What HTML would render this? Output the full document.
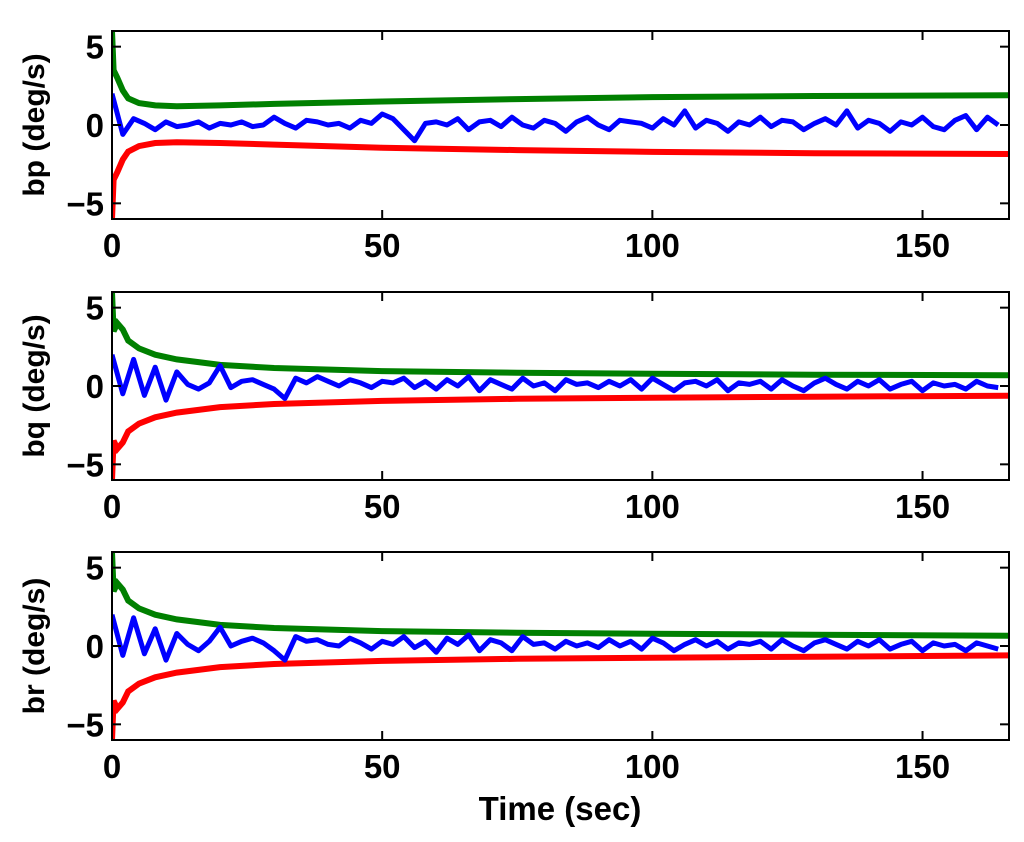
<!DOCTYPE html>
<html><head><meta charset="utf-8"><style>
html,body{margin:0;padding:0;background:#fff;}
svg{display:block;}
text{font-family:"Liberation Sans",Arial,sans-serif;font-weight:bold;fill:#000;}
</style></head><body>
<svg id="chart" width="1024" height="842" viewBox="0 0 1024 842" xmlns="http://www.w3.org/2000/svg">
<rect width="1024" height="842" fill="#fff"/>
</svg>
<script>
// time grid for noisy estimate (every 2 s)
const blueStep = 2;
const xTicks = [0, 50, 100, 150];
const yTicks = [-5, 0, 5];
const boundTimes = [0, 0.3, 1, 2, 3, 5, 8, 12, 20, 30, 50, 75, 100, 130, 166];
const bpUpper = [6, 3.5, 3.0, 2.2, 1.7, 1.4, 1.25, 1.2, 1.25, 1.35, 1.5, 1.65, 1.78, 1.85, 1.9];
const bpLower = [-6, -3.5, -3.0, -2.2, -1.7, -1.35, -1.15, -1.1, -1.15, -1.25, -1.45, -1.6, -1.72, -1.8, -1.85];
const bqUpper = [6, 3.5, 4.0, 3.6, 2.9, 2.4, 2.0, 1.7, 1.35, 1.15, 0.95, 0.85, 0.78, 0.72, 0.68];
const bqLower = [-6, -3.5, -4.0, -3.6, -2.9, -2.4, -2.0, -1.7, -1.35, -1.15, -0.95, -0.82, -0.75, -0.68, -0.62];
const brUpper = [6, 3.5, 4.0, 3.6, 2.9, 2.4, 2.0, 1.7, 1.35, 1.15, 0.95, 0.85, 0.78, 0.72, 0.65];
const brLower = [-6, -3.5, -4.0, -3.6, -2.9, -2.4, -2.0, -1.7, -1.35, -1.15, -0.95, -0.82, -0.75, -0.68, -0.6];
const bpEst = [2.0,-0.6,0.4,0.1,-0.3,0.2,-0.1,0.0,0.2,-0.2,0.1,0.0,0.2,-0.1,0.0,0.5,0.1,-0.2,0.3,0.2,0.0,0.1,-0.2,0.3,0.1,0.7,0.4,-0.3,-1.0,0.1,0.2,0.0,0.4,-0.3,0.2,0.3,-0.1,0.5,0.0,-0.2,0.3,0.1,-0.4,0.2,0.5,0.0,-0.3,0.3,0.2,0.1,-0.2,0.4,0.0,0.9,-0.2,0.3,0.1,-0.4,0.2,0.0,0.5,-0.1,0.3,0.2,-0.3,0.1,0.4,0.0,0.9,-0.2,0.3,0.1,-0.4,0.2,0.0,0.5,-0.1,-0.3,0.3,0.6,-0.3,0.5,0.0];
const bqEst = [2.0,-0.5,1.7,-0.6,1.2,-0.9,0.9,0.1,-0.2,0.2,1.3,-0.1,0.3,0.4,0.1,-0.2,-0.8,0.5,0.2,0.6,0.3,0.0,0.4,0.2,-0.1,0.3,0.2,0.5,-0.1,0.3,-0.2,0.4,0.0,0.6,-0.3,0.4,0.1,-0.2,0.5,0.0,0.2,-0.3,0.4,0.1,0.2,-0.1,0.3,0.0,0.4,-0.2,0.5,0.1,-0.3,0.2,0.3,0.0,0.4,-0.3,0.2,0.1,0.3,-0.2,0.4,0.0,-0.3,0.2,0.5,0.1,-0.2,0.3,0.0,0.4,-0.2,0.1,0.3,-0.3,0.2,0.0,0.1,-0.2,0.3,0.0,-0.1];
const brEst = [2.0,-0.6,1.8,-0.5,1.1,-0.9,0.8,0.1,-0.3,0.3,1.2,0.0,0.3,0.5,0.2,-0.3,-0.9,0.6,0.3,0.4,0.1,0.0,0.5,0.2,-0.2,0.3,0.1,0.6,-0.1,0.3,-0.4,0.5,0.1,0.7,-0.3,0.4,0.2,-0.3,0.6,0.1,0.2,-0.2,0.3,0.0,0.2,-0.1,0.4,0.0,0.3,-0.2,0.5,0.2,-0.3,0.1,0.4,0.0,0.3,-0.2,0.2,0.1,0.3,-0.2,0.4,0.0,-0.3,0.2,0.4,0.1,-0.2,0.3,0.0,0.4,-0.2,0.1,0.3,-0.3,0.2,0.0,0.1,-0.3,0.2,0.0,-0.2];
const panelLabels = ["bp (deg/s)", "bq (deg/s)", "br (deg/s)"];
const panelNames = ["bp", "bq", "br"];

const svg = document.getElementById('chart');
const NS = 'http://www.w3.org/2000/svg';
const X0 = 112, X1 = 1009, XMAX = 166;
const panelTops = [31, 292, 552], PH = 188;
function mk(tag, attrs, parent) {
  const e = document.createElementNS(NS, tag);
  for (const k in attrs) e.setAttribute(k, attrs[k]);
  (parent || svg).appendChild(e);
  return e;
}
function xs(t) { return X0 + (t / XMAX) * (X1 - X0); }
const uppers = [bpUpper, bqUpper, brUpper], lowers = [bpLower, bqLower, brLower], ests = [bpEst, bqEst, brEst];

panelNames.forEach((pn, i) => {
  const top = panelTops[i], bot = top + PH;
  const ys = v => top + (6 - v) / 12 * PH;
  const g = mk('g', {});
  
  
  const clipId = 'clip' + i;
  const cp = mk('clipPath', { id: clipId }, g);
  mk('rect', { x: X0, y: top, width: X1 - X0, height: PH }, cp);
  const pts = (ts, vs) => vs.map((v, j) => xs(ts[j]).toFixed(1) + ',' + ys(v).toFixed(1)).join(' ');
  const up = mk('polyline', { points: pts(boundTimes, uppers[i]), fill: 'none', stroke: '#008000', 'stroke-width': 6, 'clip-path': 'url(#' + clipId + ')' }, g);
  
  
  const lo = mk('polyline', { points: pts(boundTimes, lowers[i]), fill: 'none', stroke: '#ff0000', 'stroke-width': 6, 'clip-path': 'url(#' + clipId + ')' }, g);
  
  
  const bt = ests[i].map((v, j) => Math.min(j * blueStep, XMAX));
  const es = mk('polyline', { points: pts(bt, ests[i]), fill: 'none', stroke: '#0000ff', 'stroke-width': 5, 'stroke-linejoin': 'round', 'clip-path': 'url(#' + clipId + ')' }, g);
  
  
  const frame = mk('rect', { x: X0, y: top, width: X1 - X0, height: PH, fill: 'none', stroke: '#000', 'stroke-width': 2 }, g);
  
  
  xTicks.forEach(t => {
    const x = xs(t);
    mk('line', { x1: x, y1: bot, x2: x, y2: bot - 9, stroke: '#000', 'stroke-width': 2 }, g);
    mk('line', { x1: x, y1: top, x2: x, y2: top + 9, stroke: '#000', 'stroke-width': 2 }, g);
    const tl = mk('text', { x: x, y: bot + 38, 'text-anchor': 'middle', 'font-size': 33 }, g);
    tl.textContent = t;
    
    
  });
  yTicks.forEach(v => {
    const y = ys(v);
    mk('line', { x1: X0, y1: y, x2: X0 + 9, y2: y, stroke: '#000', 'stroke-width': 2 }, g);
    mk('line', { x1: X1, y1: y, x2: X1 - 9, y2: y, stroke: '#000', 'stroke-width': 2 }, g);
    const tl = mk('text', { x: X0 - 8, y: y + 12, 'text-anchor': 'end', 'font-size': 33 }, g);
    tl.textContent = v < 0 ? '\u2212' + Math.abs(v) : v;
    
    
  });
  const yl = mk('text', { x: 0, y: 0, 'text-anchor': 'middle', 'font-size': 30, transform: 'translate(44,' + (top + PH / 2) + ') rotate(-90)' }, g);
  yl.textContent = panelLabels[i];
  
  
});
const xt = mk('text', { x: 560, y: 820, 'text-anchor': 'middle', 'font-size': 33 });
xt.textContent = 'Time (sec)';


</script>
</body></html>
